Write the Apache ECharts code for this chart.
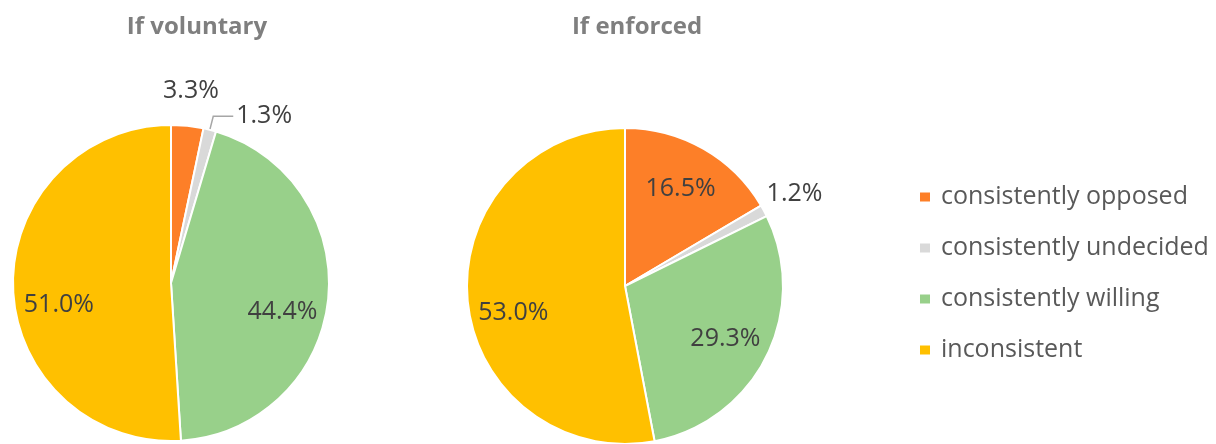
<!DOCTYPE html>
<html>
<head>
<meta charset="utf-8">
<script src="https://cdn.jsdelivr.net/npm/echarts@6/dist/echarts.min.js"></script>
<style>
  html, body { margin: 0; padding: 0; background: #fff; }
  #main { width: 1216px; height: 444px; }
</style>
</head>
<body>
<div id="main"></div>
<script>
// data
const categories = ['consistently opposed', 'consistently undecided', 'consistently willing', 'inconsistent'];
const pieTitles = ['If voluntary', 'If enforced'];
const voluntaryShares = [3.3, 1.3, 44.4, 51.0];
const enforcedShares = [16.5, 1.2, 29.3, 53.0];

const colors = ['#FD7F28', '#D9D9D9', '#98D08A', '#FFC000'];
const font = 'Open Sans';

// layout of the two pies (px)
const pies = [
  { shares: voluntaryShares, cx: 171, cy: 283, r: 158 },
  { shares: enforcedShares, cx: 625, cy: 286, r: 158 }
];

var myChart = echarts.init(document.getElementById('main'));

// mid angle (radians, clockwise from 12 o'clock) of slice i
function midAngle(shares, i) {
  let total = shares.reduce((a, b) => a + b, 0)
  let before = 0
  for (let k = 0; k < i; k++) before += shares[k]
  return (before + shares[i] / 2) / total * Math.PI * 2
}

function buildSeries(p, s) {
  return {
    type: 'pie',
    center: [p.cx, p.cy],
    radius: p.r,
    startAngle: 90,
    clockwise: true,
    avoidLabelOverlap: false,
    silent: true,
    itemStyle: { borderColor: '#fff', borderWidth: 2 },
    label: {
      position: 'inside',
      color: '#404040',
      fontFamily: font,
      fontSize: 25,
      formatter: d => d.value.toFixed(1) + '%'
    },
    labelLine: { show: false },
    data: categories.map((name, i) => {
      let item = { name: name, value: p.shares[i] }
      // the tiny undecided slice of the voluntary pie has a leader line
      if (s === 0 && i === 1) {
        item.label = { position: 'outside', distanceToLabelLine: 3 }
        item.labelLine = { show: true, length: 14, length2: 20, lineStyle: { color: '#A6A6A6', width: 1.5 } }
      }
      return item
    }),
    labelLayout: function (params) {
      let i = params.dataIndex
      if (s === 0 && i === 1) return
      let share = p.shares[i]
      let f = share < 5 ? 1.22 : 0.71
      let a = midAngle(p.shares, i)
      // Excel drops side labels a little below the radial spot
      let nudge = share < 5 ? 0 : 18 * Math.pow(Math.sin(a), 16)
      return {
        x: p.cx + Math.sin(a) * p.r * f,
        y: p.cy - Math.cos(a) * p.r * f + nudge,
        align: 'center',
        verticalAlign: 'middle'
      }
    }
  }
}

var option = {
  color: colors,
  animation: false,
  title: [
    { text: pieTitles[0], left: 192, top: 10, textAlign: 'center',
      textStyle: { color: '#7F7F7F', fontFamily: font, fontSize: 24, fontWeight: 'bold' } },
    { text: pieTitles[1], left: 632, top: 10, textAlign: 'center',
      textStyle: { color: '#7F7F7F', fontFamily: font, fontSize: 24, fontWeight: 'bold' } }
  ],
  legend: {
    orient: 'vertical',
    left: 913,
    top: 177,
    icon: 'rect',
    itemWidth: 12,
    itemHeight: 11,
    itemGap: 21,
    selectedMode: false,
    data: categories,
    textStyle: { color: '#595959', fontFamily: font, fontSize: 25, lineHeight: 30, padding: [0, 0, 0, 5] }
  },
  series: pies.map(buildSeries)
};

myChart.setOption(option);
</script>
</body>
</html>
